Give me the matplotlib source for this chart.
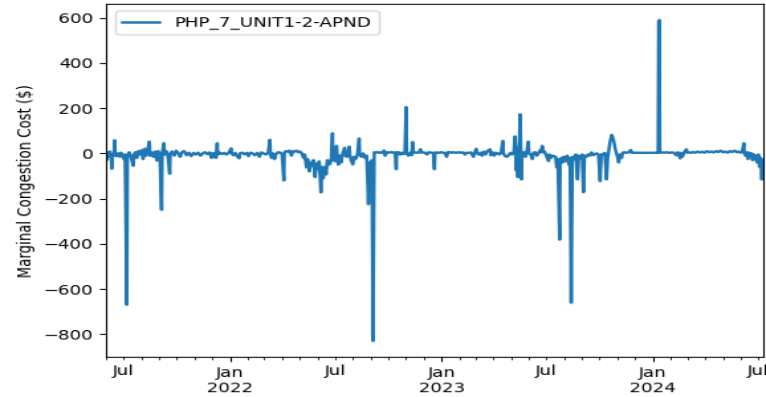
import numpy as np
import pandas as pd
import matplotlib
matplotlib.use('Agg')
import matplotlib.pyplot as plt
import matplotlib.dates as mdates
from matplotlib.ticker import FuncFormatter

# 시작일 기준 경과일수와 해당일의 혼잡비용($)
start = '2021-06-01'
node = 'PHP_7_UNIT1-2-APND'

day = [0, 2, 3, 5, 7, 9, 10, 11, 14, 15, 16, 18, 21, 24, 26, 29, 32, 33, 36, 37,
       40, 43, 47, 48, 51, 53, 56, 59, 62, 64, 67, 69, 71, 75, 76, 79, 82, 85, 88, 90,
       93, 96, 97, 100, 101, 104, 107, 110, 111, 114, 118, 121, 125, 128, 131, 135, 139, 143, 147, 151,
       155, 159, 163, 167, 171, 175, 179, 182, 184, 186, 188, 190, 192, 193, 196, 200, 204, 208, 212, 216,
       217, 220, 223, 226, 230, 231, 235, 239, 243, 246, 249, 253, 257, 261, 265, 268, 272, 276, 280, 283,
       284, 286, 288, 291, 293, 297, 301, 304, 307, 308, 311, 314, 317, 320, 323, 326, 329, 332, 335, 338,
       341, 343, 346, 348, 351, 353, 356, 358, 361, 363, 366, 368, 371, 373, 375, 378, 380, 382, 385, 387,
       389, 391, 392, 394, 396, 398, 399, 401, 403, 406, 408, 412, 413, 416, 420, 421, 423, 426, 428, 431,
       434, 437, 438, 441, 444, 447, 450, 453, 455, 457, 459, 461, 463, 466, 469, 472, 475, 478, 480, 482,
       484, 487, 490, 493, 496, 499, 501, 502, 505, 508, 511, 514, 516, 518, 519, 522, 525, 528, 529, 530,
       533, 537, 540, 543, 544, 547, 551, 554, 557, 561, 565, 567, 568, 570, 574, 578, 582, 585, 588, 590,
       593, 596, 600, 604, 608, 612, 616, 620, 622, 626, 630, 634, 636, 639, 640, 643, 646, 649, 652, 655,
       658, 663, 664, 667, 670, 673, 676, 679, 682, 685, 686, 689, 692, 695, 698, 701, 704, 706, 707, 708,
       709, 711, 713, 715, 717, 718, 721, 724, 726, 729, 730, 733, 736, 738, 741, 744, 747, 750, 751, 753,
       755, 757, 760, 764, 765, 768, 771, 776, 778, 780, 783, 784, 786, 788, 790, 793, 796, 799, 801, 803,
       805, 808, 811, 814, 816, 819, 822, 824, 826, 829, 832, 835, 838, 841, 844, 847, 850, 853, 855, 858,
       861, 864, 866, 868, 870, 873, 875, 877, 879, 881, 883, 885, 887, 890, 892, 895, 898, 902, 906, 907,
       910, 914, 918, 922, 926, 930, 934, 938, 942, 946, 950, 953, 954, 955, 956, 960, 964, 968, 972, 976,
       980, 984, 987, 991, 992, 995, 998, 1002, 1003, 1006, 1009, 1013, 1017, 1021, 1025, 1029, 1033, 1037, 1041, 1045,
       1049, 1053, 1057, 1061, 1065, 1069, 1073, 1077, 1081, 1085, 1089, 1092, 1095, 1098, 1101, 1102, 1104, 1106, 1108, 1110,
       1112, 1114, 1116, 1118, 1120, 1122, 1124, 1126, 1128, 1130, 1132, 1134]

cost = [-10, -28, 5, -15, 8, -20, -68, -5, -10, 58, -5, -12, 0, -15, 3, -10, -28, -5, -670, -10,
        5, -15, -55, -5, 5, -20, 10, -5, 15, -25, 20, -10, 5, 52, -10, 5, -15, 8, -32, 10,
        -5, -250, 0, 45, -5, 10, -15, -90, 0, 8, -10, 12, 0, -15, 5, 10, -8, 3, -12, 2,
        -5, 3, -10, 0, 5, -3, 4, -20, 0, -15, 2, -20, 45, -5, 3, -3, 2, -5, 3, 22,
        0, -8, 2, -12, -22, 0, 3, -4, 2, -12, 3, 0, -8, 2, -15, 4, 0, -5, 3, 60,
        -8, -20, 0, -25, -5, 5, 3, -5, -120, 5, 10, 8, 12, -10, 10, 8, 12, 5, 8, 0,
        -20, -5, -62, -25, -80, -40, -55, -30, -105, -45, -70, -35, -173, -60, -110, -60, -93, -30, -50, -45,
        -20, 89, -30, -10, -35, 33, -5, -50, -10, -40, -5, 25, -10, -15, 30, -5, -30, -49, -15, -25,
        -5, 66, -5, -15, 0, -20, -10, -225, -40, -100, -30, -830, 5, 3, 6, 2, 5, 2, 13, -10,
        4, 5, 3, 6, 2, 4, -70, 4, 5, -5, 3, -3, 2, 205, 0, -10, 3, -8, 50, 2,
        5, 2, 5, 18, 3, 5, 2, -5, 5, 3, 2, -70, 3, 4, 2, 5, 3, 2, -15, 5,
        6, 3, 5, 2, 5, 3, 4, -5, 3, 2, 4, -15, 0, 20, 2, -5, 3, -10, 8, -5,
        10, 18, -8, 5, -10, 3, 0, -5, 3, 55, 0, -12, -15, -8, 2, -5, 5, 75, 20, -75,
        25, -105, 20, 173, -115, -10, 5, -15, 3, 52, 0, -5, -25, 3, 5, -10, 3, 15, 5, 33,
        5, 8, -10, -34, -5, -20, -10, -15, -62, -25, -382, -30, -20, -40, -15, -35, -10, -50, -20, -661,
        -15, -25, -5, -115, -10, -20, -5, -172, -10, -15, -5, -10, 4, -8, -3, 0, -5, -123, -5, -3,
        2, -115, -20, 15, 50, 82, 68, 48, 20, 0, -15, -40, -5, -20, 3, 5, 2, 5, 15, 3,
        2, 3, 2, 3, 2, 3, 2, 3, 2, 3, 2, 3, 585, 590, 3, 4, 3, 5, 2, 4,
        3, -8, 5, -22, 2, -15, 5, 18, 3, 5, 2, 6, 3, 8, 4, 7, 3, 10, 5, 8,
        4, 10, 6, 12, 5, 8, 3, 10, 6, 12, 5, 8, 3, 5, 45, 0, -10, 5, -25, 3,
        -15, 0, -30, -5, -28, -10, -40, -5, -60, -20, -115, -30]

dates = pd.Timestamp(start) + pd.to_timedelta(day, unit='D')
s = pd.Series(cost, index=dates, name=node)

# 원래 그림 크기(px) -> 최종 출력 크기(px)
W0, H0 = 578, 415
W, H = 766, 397

fig = plt.figure(figsize=(W0 / 100, H0 / 100), dpi=100)
ax = fig.add_axes([106 / W, 1 - 357 / H, (763 - 106) / W, (357 - 4) / H])
ax.plot(s.index, s.values, color='#1f77b4', lw=1.8, label=node)
ax.set_xlim(s.index[0], s.index[-1])
ax.set_ylabel('Marginal Congestion Cost ($)')
ax.legend(loc='upper left')

# 판다스 스타일 날짜축: 1월은 연도와 함께 major, 월별 minor 중 7월만 표시
ax.xaxis.set_major_locator(mdates.YearLocator())
ax.xaxis.set_major_formatter(mdates.DateFormatter('%b\n%Y'))
ax.xaxis.set_minor_locator(mdates.MonthLocator())
ax.xaxis.set_minor_formatter(FuncFormatter(
    lambda v, pos: 'Jul' if mdates.num2date(v).month == 7 else ''))

fig.canvas.draw()
img = np.asarray(fig.canvas.buffer_rgba()).astype(float) / 255.0


# 선형보간으로 이미지 크기 변경 (가로로 늘림)
def resize(a, h, w):
    ys = (np.arange(h) + 0.5) * a.shape[0] / h - 0.5
    y0 = np.clip(np.floor(ys).astype(int), 0, a.shape[0] - 1)
    y1 = np.clip(y0 + 1, 0, a.shape[0] - 1)
    wy = np.clip(ys - y0, 0, 1)[:, None, None]
    a = a[y0] * (1 - wy) + a[y1] * wy
    xs = (np.arange(w) + 0.5) * a.shape[1] / w - 0.5
    x0 = np.clip(np.floor(xs).astype(int), 0, a.shape[1] - 1)
    x1 = np.clip(x0 + 1, 0, a.shape[1] - 1)
    wx = np.clip(xs - x0, 0, 1)[None, :, None]
    return a[:, x0] * (1 - wx) + a[:, x1] * wx


out = np.clip(resize(img, H, W), 0, 1)
plt.imsave('out.png', out)
